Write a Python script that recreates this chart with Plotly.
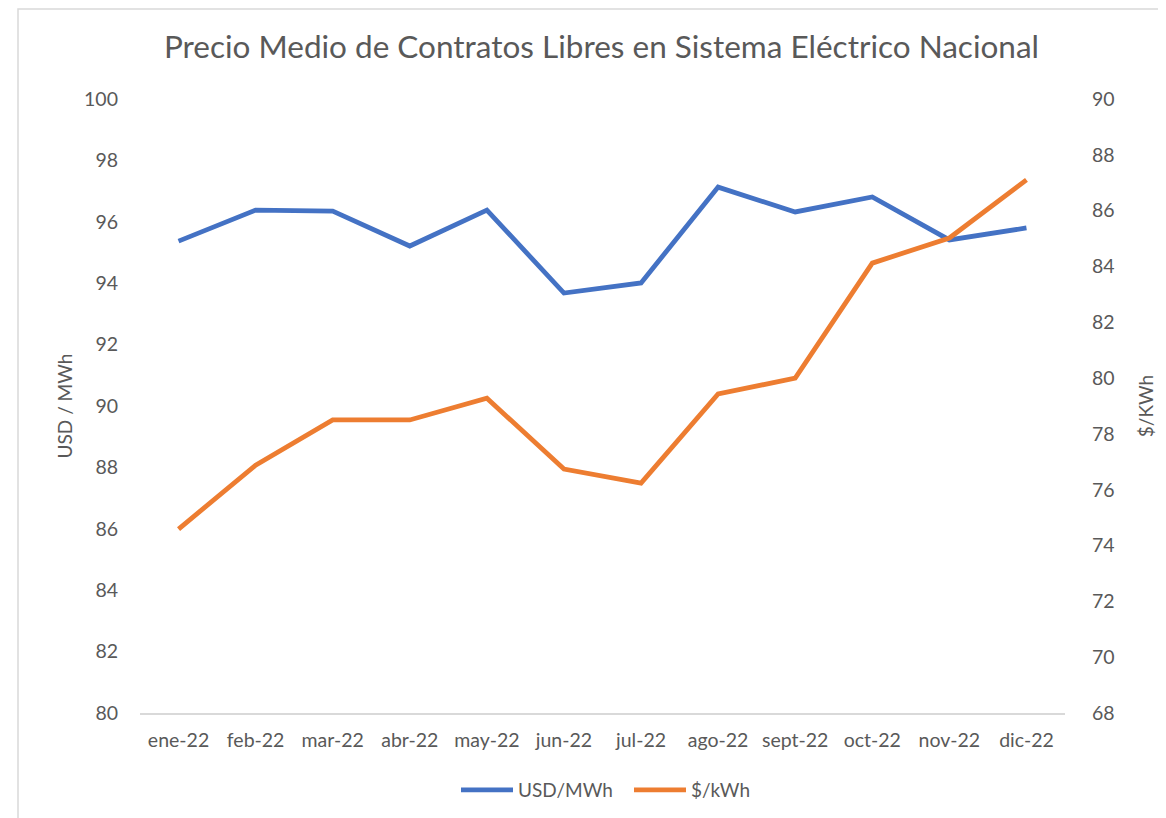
import plotly.graph_objects as go

months = ["ene-22", "feb-22", "mar-22", "abr-22", "may-22", "jun-22",
          "jul-22", "ago-22", "sept-22", "oct-22", "nov-22", "dic-22"]
usd_mwh = [95.37, 96.38, 96.35, 95.21, 96.38, 93.68, 94.01, 97.13, 96.32, 96.81, 95.41, 95.80]
clp_kwh = [74.59, 76.88, 78.50, 78.50, 79.28, 76.74, 76.24, 79.43, 80.00, 84.12, 85.02, 87.10]

FONT = "Lato"
TXT = "#595959"

W, H = 1158, 810
L, R, T, B = 132, 101, 91, 105
PW, PH = W - L - R, H - T - B

fig = go.Figure()
fig.add_trace(go.Scatter(x=months, y=usd_mwh, name="USD/MWh", mode="lines",
                         line=dict(color="#4472C4", width=4.8)))
fig.add_trace(go.Scatter(x=months, y=clp_kwh, name="$/kWh", mode="lines", yaxis="y2",
                         line=dict(color="#ED7D31", width=4.8)))

fig.update_layout(
    width=W, height=H,
    margin=dict(l=L, r=R, t=T, b=B, autoexpand=False),
    paper_bgcolor="white", plot_bgcolor="white",
    font=dict(family=FONT, color=TXT, size=19),
    title=dict(text="Precio Medio de Contratos Libres en Sistema Eléctrico Nacional",
               x=0.5125, xanchor="center", y=0.952, yanchor="middle",
               font=dict(size=31.5, color=TXT, family=FONT)),
    xaxis=dict(showgrid=False, showline=True, linecolor="#d9d9d9", linewidth=1.5,
               range=[-0.5, 11.5], automargin=False,
               ticks="", tickfont=dict(size=19.5, color=TXT), ticklabelstandoff=9),
    yaxis=dict(range=[80, 100], dtick=2, showgrid=False, zeroline=False, ticks="",
               automargin=False,
               tickfont=dict(size=19.5, color=TXT), ticklabelstandoff=21,
               title=dict(text="USD / MWh", font=dict(size=19, color=TXT), standoff=6)),
    yaxis2=dict(range=[68, 90], dtick=2, overlaying="y", side="right", showgrid=False,
                zeroline=False, ticks="", automargin=False,
                tickfont=dict(size=19.5, color=TXT), ticklabelstandoff=26,
                title=dict(text="$/KWh", font=dict(size=19, color=TXT), standoff=26)),
    legend=dict(orientation="h", xref="container", x=(462 - 8 - 6) / W, xanchor="left",
                yref="container", y=1 - 782 / H, yanchor="middle",
                font=dict(size=19, color=TXT), itemwidth=52,
                entrywidth=106, entrywidthmode="pixels"),
    showlegend=True,
)

# chart frame (light grey border, partially cropped)
fig.add_shape(type="rect", xref="paper", yref="paper",
              x0=(10 - L) / PW, x1=(W + 50 - L) / PW,
              y0=-(H + 50 - T - PH) / PH, y1=(T + PH - 1) / PH,
              line=dict(color="#d9d9d9", width=1.5), layer="below")

fig.write_html("out.html")
